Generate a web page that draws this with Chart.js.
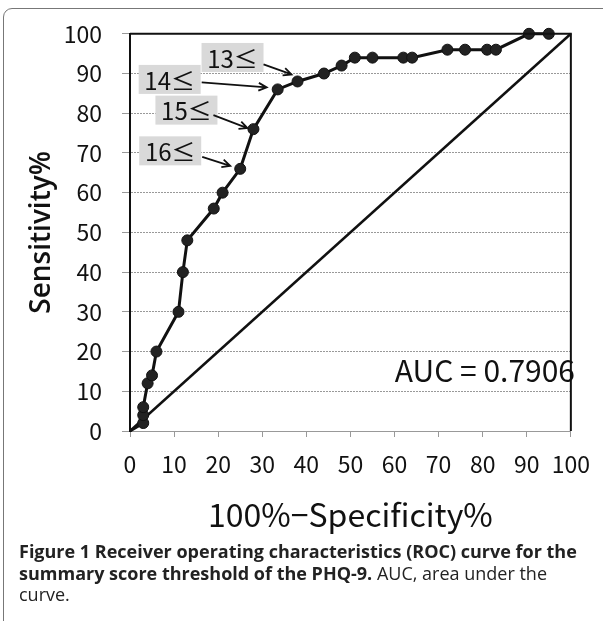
<!DOCTYPE html>
<html>
<head>
<meta charset="utf-8">
<script src="https://cdn.jsdelivr.net/npm/chart.js@4.4.1/dist/chart.umd.min.js"></script>
<style>
  html, body { margin: 0; padding: 0; background: #fff; overflow: hidden; }
  #frame { position: absolute; left: 3px; top: 8px; width: 660px; height: 700px;
           border: 1px solid #777; border-radius: 9px; }
  #wrap { position: absolute; left: 0; top: 0; width: 603px; height: 540px; }
  #caption { position: absolute; left: 19px; top: 541px; width: 584px; white-space: nowrap;
             font-family: "Open Sans", sans-serif; font-size: 18px; line-height: 21.5px; color: #222; }
  #caption b { font-weight: 700; }
</style>
</head>
<body>
<div id="frame"></div>
<div id="wrap"><canvas id="roc"></canvas></div>
<div id="caption"><b>Figure 1</b> <b>Receiver operating characteristics (ROC) curve for the<br>summary score threshold of the PHQ-9.</b> AUC, area under the<br>curve.</div>
<script>
document.addEventListener("DOMContentLoaded", function () {

    // ROC points (100% - specificity, sensitivity)
    const fpr = [0, 3, 3, 3, 4, 5, 6, 11, 12, 13, 19, 21, 25, 28, 33.5, 38, 44, 48, 51, 55, 62, 64, 72, 76, 81, 83, 90.5, 95];
    const tpr = [0, 2, 4, 6, 12, 14, 20, 30, 40, 48, 56, 60, 66, 76, 86, 88, 90, 92, 94, 94, 94, 94, 96, 96, 96, 96, 100, 100];

    // threshold labels and the point each one points at
    const thresholdLabels = ['13≤', '14≤', '15≤', '16≤'];
    const thresholdIndex = [15, 14, 13, 12];

    const aucText = 'AUC = 0.7906';
    const xTitle = '100%\u2212Specificity%';
    const yTitle = 'Sensitivity%';

    // label placement, pixel offsets from the target point
    const calloutLayout = [
        { box: [-65, -24], from: [-34, -17], to: [-6, -7] },
        { box: [-108, -10], from: [-76, -7], to: [-11, -2] },
        { box: [-67, -19], from: [-40, -14], to: [-6, -1] },
        { box: [-70, -18], from: [-38, -12], to: [-10, -3] }
    ];

    const chartFont = '"Noto Sans CJK JP", "Noto Sans", sans-serif';

    const curve = fpr.map((x, i) => ({ x: x, y: tpr[i] }));

    const extras = {
        id: 'extras',
        afterDatasetsDraw(chart) {
            const ctx = chart.ctx;
            const a = chart.chartArea;
            const xs = chart.scales.x, ys = chart.scales.y;
            ctx.save();
            // top and right frame
            ctx.strokeStyle = '#111';
            ctx.lineWidth = 2;
            ctx.beginPath();
            ctx.moveTo(a.left, a.top);
            ctx.lineTo(a.right, a.top);
            ctx.lineTo(a.right, a.bottom);
            ctx.stroke();

            // callouts
            thresholdLabels.forEach((txt, i) => {
                const k = thresholdIndex[i];
                const px = xs.getPixelForValue(fpr[k]);
                const py = ys.getPixelForValue(tpr[k]);
                const L = calloutLayout[i];
                const bw = 62, bh = 29;
                const bx = px + L.box[0], by = py + L.box[1];
                ctx.fillStyle = '#d9d9d9';
                ctx.fillRect(bx - bw / 2, by - bh / 2, bw, bh);
                ctx.fillStyle = '#111';
                ctx.font = '24px ' + chartFont;
                ctx.textAlign = 'center';
                ctx.textBaseline = 'middle';
                ctx.fillText(txt, bx, by + 1);
                // arrow
                const x1 = px + L.from[0], y1 = py + L.from[1];
                const x2 = px + L.to[0], y2 = py + L.to[1];
                ctx.strokeStyle = '#111';
                ctx.lineWidth = 1.8;
                ctx.beginPath();
                ctx.moveTo(x1, y1);
                ctx.lineTo(x2, y2);
                const ang = Math.atan2(y2 - y1, x2 - x1);
                const h = 9;
                ctx.moveTo(x2 - h * Math.cos(ang - 0.45), y2 - h * Math.sin(ang - 0.45));
                ctx.lineTo(x2, y2);
                ctx.lineTo(x2 - h * Math.cos(ang + 0.45), y2 - h * Math.sin(ang + 0.45));
                ctx.stroke();
            });

            // AUC text
            ctx.fillStyle = '#111';
            ctx.font = '30px ' + chartFont;
            ctx.textAlign = 'center';
            ctx.textBaseline = 'middle';
            ctx.fillText(aucText, xs.getPixelForValue(80.5), ys.getPixelForValue(15.3));
            ctx.restore();
        }
    };

    const config = {
        type: 'scatter',
        data: {
            datasets: [{
                data: curve,
                showLine: true,
                borderColor: '#111',
                borderWidth: 3,
                pointRadius: curve.map((p, i) => i === 0 ? 0 : 5.5),
                pointBackgroundColor: '#222',
                pointBorderColor: '#111',
                pointBorderWidth: 1,
                tension: 0,
                clip: false
            }, {
                data: [{ x: 0, y: 0 }, { x: 100, y: 100 }],
                showLine: true,
                borderColor: '#111',
                borderWidth: 2.5,
                pointRadius: 0,
                clip: false
            }]
        },
        options: {
            responsive: true,
            maintainAspectRatio: false,
            animation: false,
            layout: { padding: { left: 0, right: 32, top: 31, bottom: 0 } },
            plugins: {
                legend: { display: false },
                tooltip: { enabled: false }
            },
            scales: {
                x: {
                    type: 'linear',
                    min: 0, max: 100,
                    ticks: { stepSize: 10, color: '#111', padding: 13, maxRotation: 0,
                             font: { size: 23, family: chartFont } },
                    grid: { drawOnChartArea: false, drawTicks: true, tickLength: 6, color: '#999' },
                    border: { color: '#999', width: 1 },
                    title: { display: true, text: xTitle, color: '#111',
                             font: { size: 32, family: chartFont }, padding: { top: 0, bottom: 6 } },
                    afterFit: function (scale) { scale.height = 109; }
                },
                y: {
                    min: 0, max: 100,
                    ticks: { stepSize: 10, color: '#111', padding: 20,
                             font: { size: 23, family: chartFont } },
                    grid: { color: '#999', lineWidth: 1, tickLength: 8 },
                    border: { color: '#111', width: 2, dash: [2, 1] },
                    title: { display: true, text: yTitle, color: '#111',
                             font: { size: 28, weight: '600', family: '"Open Sans", sans-serif' },
                             padding: { top: 25, bottom: 0 } },
                    afterFit: function (scale) { scale.width = 130; }
                }
            }
        },
        plugins: [extras]
    };

    new Chart(document.getElementById('roc'), config);
});
</script>
</body>
</html>
